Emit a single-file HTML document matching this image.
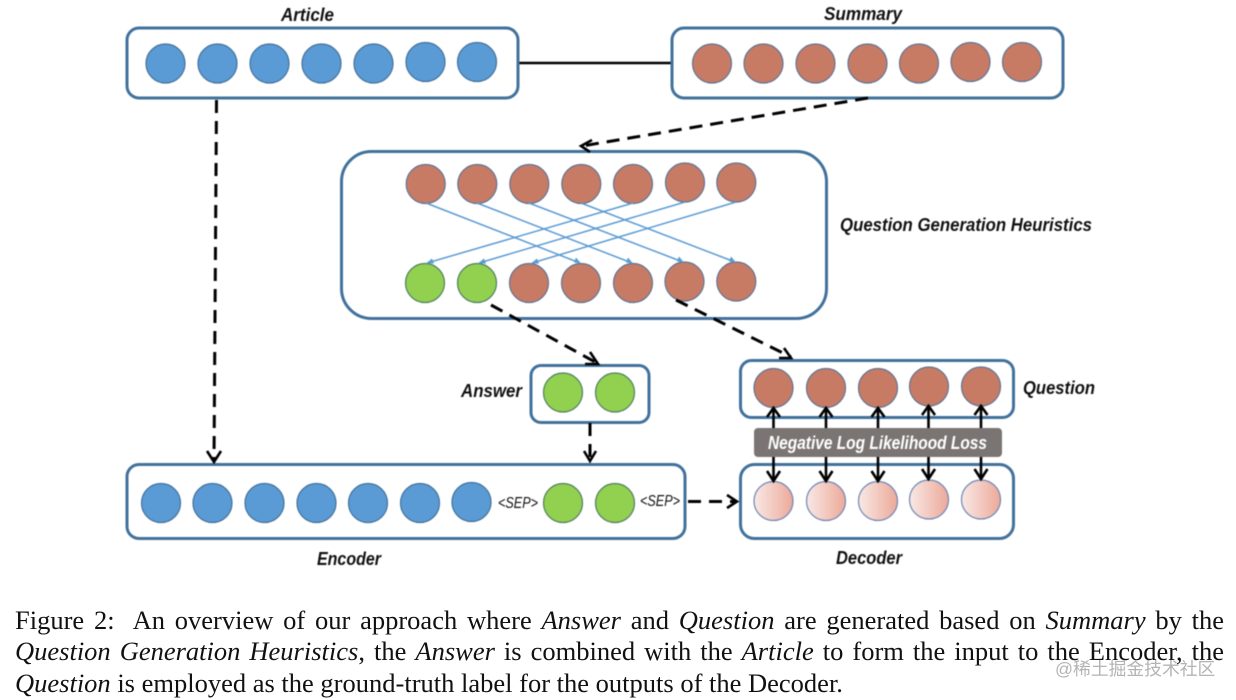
<!DOCTYPE html>
<html><head><meta charset="utf-8">
<style>
html,body{margin:0;padding:0;background:#fff;width:1236px;height:700px;overflow:hidden}
#w{position:relative;width:1236px;height:700px}
svg{position:absolute;left:0;top:0;filter:blur(.45px)}
.l{position:absolute;left:15px;width:1209px;font:26.5px/32px "Liberation Serif",serif;color:#111;white-space:nowrap;text-align:justify;text-align-last:justify;filter:blur(.3px)}
.m{position:absolute;left:1055px;top:659px;font:17.8px/20px "Liberation Sans","Noto Sans CJK SC",sans-serif;color:#b4b4b4;white-space:nowrap}
text{font-family:"Liberation Sans",sans-serif;font-weight:bold;font-style:italic;font-size:18px;fill:#111}
.b{fill:#fff;stroke:#41719c;stroke-width:3}
.d{stroke:#000;stroke-width:3;stroke-dasharray:13 8;fill:none}
.h{stroke:#000;stroke-width:2.6;fill:none}
.u circle{fill:#5b9bd5;stroke:#41719c;stroke-width:1.2}
.r circle{fill:#c87b64;stroke:#5f7394;stroke-width:1.2}
.g circle{fill:#92d050;stroke:#4f7f5e;stroke-width:1.2}
.p circle{fill:url(#pk);stroke:#6f86b5;stroke-width:1.2}
.a line{stroke:#5b9bd5;stroke-width:1.5}
.a path{fill:#5b9bd5}
</style></head><body><div id="w">
<svg width="1236" height="700" viewBox="0 0 1236 700">
<defs><linearGradient id="pk" x1="0" x2="1" y1="0" y2="0"><stop offset="0" stop-color="#f9e9e6"/><stop offset="1" stop-color="#eca999"/></linearGradient></defs>

<line x1="518" y1="63" x2="672" y2="63" stroke="#000" stroke-width="2.6"/>
<rect class="b" x="127" y="28" width="391" height="70" rx="12"/>
<rect class="b" x="672" y="28" width="391" height="70" rx="12"/>
<rect class="b" x="341.500" y="151.500" width="485" height="167" rx="30"/>
<rect class="b" x="531" y="365.500" width="118" height="57" rx="10"/>
<rect class="b" x="740.500" y="360.500" width="273" height="57" rx="11"/>
<rect class="b" x="127" y="464.500" width="558" height="74" rx="12"/>
<rect class="b" x="740.500" y="464.500" width="273" height="74" rx="14"/>

<g class="u">
<circle cx="165.500" cy="63.500" r="19.500"/><circle cx="217.500" cy="63.500" r="19.500"/><circle cx="269.500" cy="63.500" r="19.500"/><circle cx="321.500" cy="63.500" r="19.500"/><circle cx="373.500" cy="63.500" r="19.500"/><circle cx="425.500" cy="62" r="19.500"/><circle cx="477" cy="62" r="19.500"/>
<circle cx="161" cy="503" r="19.500"/><circle cx="212.500" cy="503" r="19.500"/><circle cx="264.500" cy="503" r="19.500"/><circle cx="316.500" cy="503" r="19.500"/><circle cx="368" cy="503" r="19.500"/><circle cx="420" cy="503" r="19.500"/><circle cx="471.500" cy="502" r="19.500"/>
</g>
<g class="r">
<circle cx="712" cy="63.500" r="19.500"/><circle cx="763.500" cy="63.500" r="19.500"/><circle cx="815.500" cy="63.500" r="19.500"/><circle cx="867.500" cy="63.500" r="19.500"/><circle cx="919" cy="63.500" r="19.500"/><circle cx="970.500" cy="62" r="19.500"/><circle cx="1022" cy="62" r="19.500"/>
<circle cx="425.700" cy="184" r="19.500"/><circle cx="477.300" cy="184" r="19.500"/><circle cx="529.300" cy="184" r="19.500"/><circle cx="581.300" cy="184" r="19.500"/><circle cx="633" cy="184" r="19.500"/><circle cx="685" cy="182.500" r="19.500"/><circle cx="736.300" cy="182.500" r="19.500"/>
<circle cx="529" cy="283" r="19.500"/><circle cx="581" cy="283" r="19.500"/><circle cx="633" cy="283" r="19.500"/><circle cx="684.500" cy="281.500" r="19.500"/><circle cx="736.300" cy="281.500" r="19.500"/>
<circle cx="773.500" cy="388" r="19.500"/><circle cx="826" cy="388" r="19.500"/><circle cx="878" cy="388" r="19.500"/><circle cx="929" cy="386.500" r="19.500"/><circle cx="981" cy="386.500" r="19.500"/>
</g>
<g class="g">
<circle cx="425" cy="283" r="19.500"/><circle cx="477" cy="283" r="19.500"/>
<circle cx="563" cy="392.500" r="19.500"/><circle cx="615" cy="392.500" r="19.500"/>
<circle cx="563" cy="503" r="19.500"/><circle cx="615" cy="503" r="19.500"/>
</g>
<g class="p">
<circle cx="773.500" cy="501" r="19.500"/><circle cx="826" cy="501" r="19.500"/><circle cx="878" cy="501" r="19.500"/><circle cx="929" cy="499.500" r="19.500"/><circle cx="981" cy="499.500" r="19.500"/>
</g>

<g class="a">
<line x1="426" y1="203" x2="580" y2="263"/><line x1="477" y1="203" x2="632" y2="263"/><line x1="529" y1="203" x2="683" y2="262"/><line x1="581" y1="203" x2="735" y2="262"/>
<line x1="633" y1="203" x2="427" y2="263"/><line x1="685" y1="202" x2="479" y2="263"/><line x1="736" y1="202" x2="532" y2="263"/>
<path d="M581,263.500l-7,-1l2,-5z"/><path d="M633,263.500l-7,-1l2,-5z"/><path d="M684,262.500l-7,-1l2,-5z"/><path d="M736,262.500l-7,-1l2,-5z"/>
<path d="M426,263.500l6,-5l2,5z"/><path d="M478,263.500l6,-5l2,5z"/><path d="M531,263.500l6,-5l2,5z"/>
</g>

<!-- dashed connectors -->
<line class="d" x1="216.500" y1="100" x2="214" y2="461"/><path class="h" d="M207,451l7,11l7,-11"/>
<line class="d" x1="868" y1="98" x2="582" y2="146"/><path class="h" d="M592,140l-11,6l9,6"/>
<line class="d" x1="491" y1="305" x2="597" y2="363"/><path class="h" d="M590,352l8,12l-13,0"/>
<line class="d" x1="676" y1="300" x2="791" y2="357"/><path class="h" d="M784,348l7,10l-12,0"/>
<line class="d" x1="590" y1="423" x2="590" y2="461" stroke-dasharray="11 6"/><path class="h" d="M584,451l6,10l6,-10"/>
<line class="d" x1="688" y1="501.500" x2="736" y2="501.500" stroke-dasharray="12 7"/><path class="h" d="M727,495l10,6.500l-10,6.500"/>

<!-- gray banner -->
<g stroke="#000" stroke-width="2.6" fill="none">
<line x1="773.500" y1="409" x2="773.500" y2="480"/><path d="M767,417l6.500,-9l6.500,9M767,471l6.500,10l6.500,-10"/>
<line x1="826" y1="409" x2="826" y2="480"/><path d="M819.500,417l6.500,-9l6.500,9M819.500,471l6.500,10l6.500,-10"/>
<line x1="878" y1="409" x2="878" y2="480"/><path d="M871.500,417l6.500,-9l6.500,9M871.500,471l6.500,10l6.500,-10"/>
<line x1="928.500" y1="407" x2="928.500" y2="479"/><path d="M922,415l6.500,-9l6.500,9M922,469l6.500,10l6.500,-10"/>
<line x1="981" y1="407" x2="981" y2="479"/><path d="M974.500,415l6.500,-9l6.500,9M974.500,469l6.500,10l6.500,-10"/>
</g>
<rect x="754" y="428" width="248" height="29" rx="4" fill="#7a7573"/>
<text x="768" y="449" textLength="219" lengthAdjust="spacingAndGlyphs" style="fill:#fff">Negative Log Likelihood Loss</text>

<text x="281" y="21" textLength="53" lengthAdjust="spacingAndGlyphs">Article</text>
<text x="824" y="20" textLength="78" lengthAdjust="spacingAndGlyphs">Summary</text>
<text x="840" y="231" textLength="252" lengthAdjust="spacingAndGlyphs">Question Generation Heuristics</text>
<text x="461" y="397" textLength="61" lengthAdjust="spacingAndGlyphs">Answer</text>
<text x="1023" y="394" textLength="72" lengthAdjust="spacingAndGlyphs">Question</text>
<text x="317" y="565" textLength="64" lengthAdjust="spacingAndGlyphs">Encoder</text>
<text x="836" y="564" textLength="66" lengthAdjust="spacingAndGlyphs">Decoder</text>
<text x="498" y="508" textLength="40" lengthAdjust="spacingAndGlyphs" style="font-weight:normal;font-size:16px">&lt;SEP&gt;</text>
<text x="640" y="506" textLength="40" lengthAdjust="spacingAndGlyphs" style="font-weight:normal;font-size:16px">&lt;SEP&gt;</text>
</svg>

<div class="l" style="top:604px">Figure 2:&nbsp; An overview of our approach where <i>Answer</i> and <i>Question</i> are generated based on <i>Summary</i> by the</div>
<div class="l" style="top:635px"><i>Question Generation Heuristics</i>, the <i>Answer</i> is combined with the <i>Article</i> to form the input to the Encoder, the</div>
<div class="l" style="top:667px;text-align:left;text-align-last:left"><i>Question</i> is employed as the ground-truth label for the outputs of the Decoder.</div>
<div class="m">@稀土掘金技术社区</div>
</div></body></html>
